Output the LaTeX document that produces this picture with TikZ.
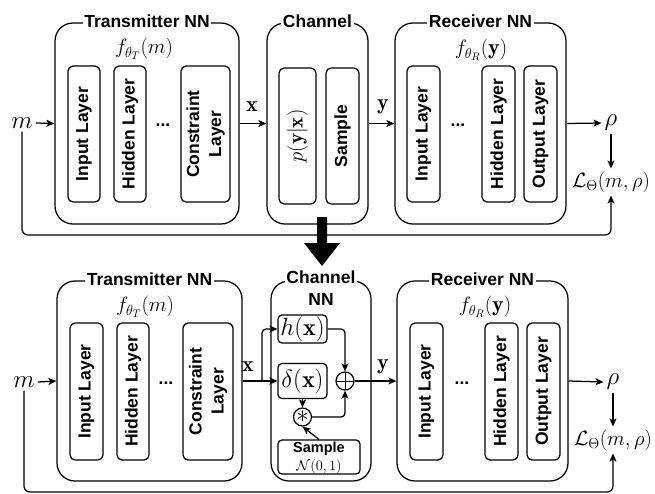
\documentclass[tikz,border=0pt]{standalone}
\usepackage{fontspec}
\newfontfamily\labfont{Liberation Sans}
\usetikzlibrary{arrows.meta,calc}
\begin{document}
\begin{tikzpicture}[x=1pt,y=-1pt,
  outer/.style={draw, line width=1.25pt, rounded corners=18pt, inner sep=0pt},
  layer/.style={draw, line width=1.25pt, rounded corners=5pt, rotate=90, inner sep=0pt, align=center, font=\labfont\bfseries\fontsize{17.5}{22}\selectfont},
  ttl/.style={fill=white, inner sep=1.5pt, anchor=base, font=\labfont\bfseries\fontsize{17.5}{22}\selectfont},
  mth/.style={inner sep=3pt, font=\fontsize{22}{26}\selectfont},
  big/.style={inner sep=3pt, font=\fontsize{24}{28}\selectfont},
  dotsn/.style={inner sep=0pt, font=\labfont\bfseries\fontsize{17.5}{22}\selectfont},
  sbox/.style={draw, line width=1.25pt, rounded corners=4pt, inner sep=0pt, font=\fontsize{24}{28}\selectfont},
  circ/.style={draw, circle, line width=1.25pt, minimum size=18pt, inner sep=0pt, font=\fontsize{26}{28}\selectfont},
  arr/.style={line width=1.25pt, -{Stealth[length=8pt,width=7pt,inset=2pt]}},
]
\useasboundingbox (0,0) rectangle (655,493);

% ================= TOP ROW =================
\node[outer, minimum width=184pt, minimum height=201pt] (T1) at (147,123.5) {};
\node[ttl] (T1t) at (147,27) {Transmitter NN};
\node[mth] (fT1) at (144,49) {$f_{\theta_T}(m)$};
\node[layer, minimum width=136pt, minimum height=32pt] (T1a) at (84,134) {Input Layer};
\node[layer, minimum width=136pt, minimum height=32pt] (T1b) at (130,134) {Hidden Layer};
\node[dotsn] (T1d) at (163,125) {...};
\node[layer, minimum width=136pt, minimum height=49pt] (T1c) at (205.5,134) {Constraint\\Layer};

\node[outer, minimum width=101pt, minimum height=201pt] (C1) at (317.5,123.5) {};
\node[ttl] (C1t) at (317.5,27) {Channel};
\node[layer, minimum width=136pt, minimum height=37pt, font=\fontsize{21}{25}\selectfont] (C1a) at (297.5,136) {$p(\mathbf{y}|\mathbf{x})$};
\node[layer, minimum width=136pt, minimum height=33pt] (C1b) at (342.5,136) {Sample};

\node[outer, minimum width=171pt, minimum height=201pt] (R1) at (480.5,123.5) {};
\node[ttl] (R1t) at (480.5,27) {Receiver NN};
\node[mth] (fR1) at (481,50) {$f_{\theta_R}(\mathbf{y})$};
\node[layer, minimum width=136pt, minimum height=33pt] (R1a) at (423.5,134) {Input Layer};
\node[dotsn] (R1d) at (458,125) {...};
\node[layer, minimum width=136pt, minimum height=33pt] (R1b) at (498.5,134) {Hidden Layer};
\node[layer, minimum width=136pt, minimum height=33pt] (R1c) at (540.5,134) {Output Layer};

\node[big] (m1) at (22,123) {$m$};
\node[big] (rho1) at (611,123) {$\rho$};
\node[mth] (L1) at (611,182) {$\mathcal{L}_{\Theta}(m,\rho)$};
\node[mth] (x1) at (252,107) {$\mathbf{x}$};
\node[mth] (y1) at (383,107) {$\mathbf{y}$};

\draw[arr] (m1.east) -- (T1.west);
\draw[arr] (T1.east) -- (C1.west);
\draw[arr] (C1.east) -- (R1.west);
\draw[arr] (R1.east) -- (rho1.west);
\draw[arr] (rho1.south) -- (L1.north);
\coordinate (fb1) at (611,235);
\draw[arr, rounded corners=6pt] (m1.south) |- (fb1) -- (L1.south);

% ================= BIG ARROW =================
\fill (317,217) -- (327,217) -- (327,243) -- (340,243) -- (322,266) -- (304,243) -- (317,243) -- cycle;

% ================= BOTTOM ROW =================
\node[outer, minimum width=185pt, minimum height=200pt] (T2) at (149.5,381) {};
\node[ttl] (T2t) at (149.5,285) {Transmitter NN};
\node[mth] (fT2) at (145,307) {$f_{\theta_T}(m)$};
\node[layer, minimum width=137pt, minimum height=33pt] (T2a) at (86.5,391.5) {Input Layer};
\node[layer, minimum width=137pt, minimum height=32pt] (T2b) at (133,391.5) {Hidden Layer};
\node[dotsn] (T2d) at (166,383) {...};
\node[layer, minimum width=137pt, minimum height=50pt] (T2c) at (208,391.5) {Constraint\\Layer};

\node[outer, minimum width=100pt, minimum height=200pt] (C2) at (321,381) {};
\node[ttl] (C2t) at (321,283) {Channel};
\node[ttl, fill=none] (C2u) at (321,305) {NN};
\node[sbox, minimum width=49pt, minimum height=28pt] (h) at (302.5,329) {$h(\mathbf{x})$};
\node[sbox, minimum width=49pt, minimum height=35pt] (d) at (302.5,381) {$\delta(\mathbf{x})$};
\node[circ, path picture={\draw[line width=0.8pt] (path picture bounding box.north) -- (path picture bounding box.south) (path picture bounding box.west) -- (path picture bounding box.east);}] (plus) at (345,381) {};
\node[circ] (star) at (302.5,417) {$*$};
\node[sbox, minimum width=82pt, minimum height=34pt] (smp) at (319,457) {};
\node[inner sep=0pt, font=\labfont\bfseries\fontsize{14.5}{17}\selectfont] (smpt) at (319,449) {Sample};
\node[inner sep=0pt, font=\fontsize{14}{16}\selectfont] (smpn) at (319,467) {$\mathcal{N}(0,1)$};

\node[outer, minimum width=171pt, minimum height=200pt] (R2) at (482.5,381) {};
\node[ttl] (R2t) at (482.5,285) {Receiver NN};
\node[mth] (fR2) at (485,307) {$f_{\theta_R}(\mathbf{y})$};
\node[layer, minimum width=137pt, minimum height=33pt] (R2a) at (426.5,391.5) {Input Layer};
\node[dotsn] (R2d) at (462,383) {...};
\node[layer, minimum width=137pt, minimum height=33pt] (R2b) at (501.5,391.5) {Hidden Layer};
\node[layer, minimum width=137pt, minimum height=33pt] (R2c) at (543.5,391.5) {Output Layer};

\node[big] (m2) at (24,382) {$m$};
\node[big] (rho2) at (613,382) {$\rho$};
\node[mth] (L2) at (613,440) {$\mathcal{L}_{\Theta}(m,\rho)$};
\node[mth] (x2) at (248,367) {$\mathbf{x}$};
\node[mth] (y2) at (383,367) {$\mathbf{y}$};

\coordinate (br) at (262,381);
\draw[arr] (m2.east) -- (T2.west);
\draw[arr] (T2.east) -- (d.west);
\draw[arr, rounded corners=4pt] (br) |- (h.west);
\draw[arr, rounded corners=4pt] (h.east) -| (plus.north);
\draw[arr] (d.south) -- (star.north);
\draw[arr] (smp.north) -- (star.south);
\draw[arr, rounded corners=4pt] (star.east) -| (plus.south);
\draw[arr] (plus.east) -- (R2.west);
\draw[arr] (R2.east) -- (rho2.west);
\draw[arr] (rho2.south) -- (L2.north);
\coordinate (fb2) at (613,492);
\draw[arr, rounded corners=6pt] (m2.south) |- (fb2) -- (L2.south);
\end{tikzpicture}
\end{document}
